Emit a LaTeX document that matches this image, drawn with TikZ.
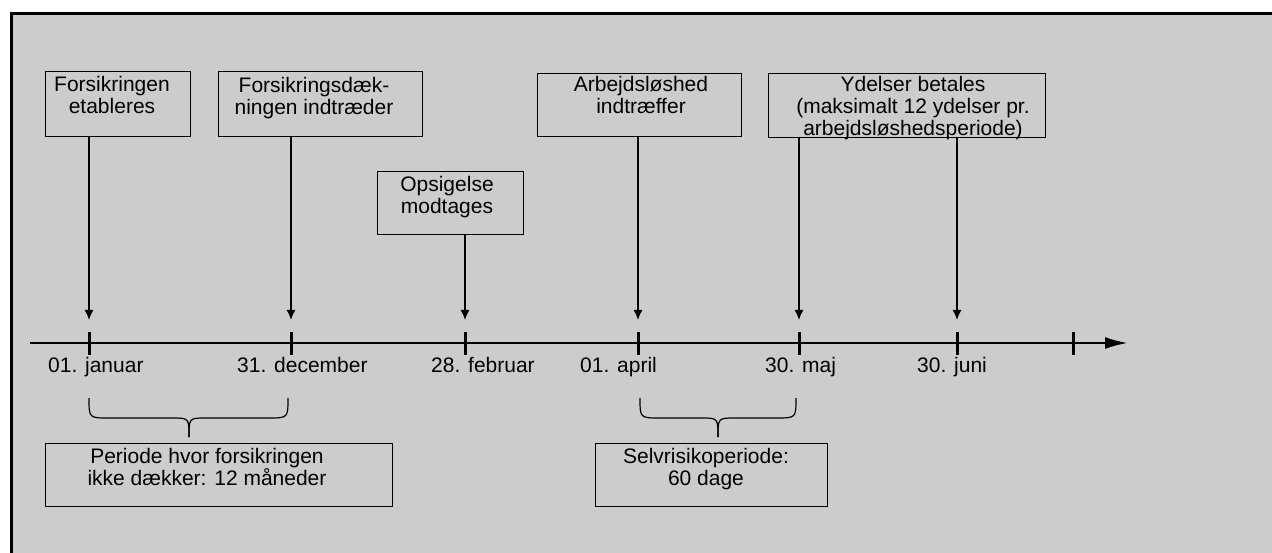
\documentclass[tikz,border=0pt]{standalone}
\usepackage{fontspec}
\setmainfont{Liberation Sans}
\usetikzlibrary{arrows.meta}
\definecolor{bgdots}{gray}{0.80}
\begin{document}
\begin{tikzpicture}[x=1pt,y=-1pt,
  box/.style={draw, line width=1.2pt, inner sep=0pt, anchor=north west},
  txt/.style={inner sep=0pt, anchor=base, font=\fontsize{21}{22}\selectfont},
  datelbl/.style={inner sep=0pt, anchor=base west, font=\fontsize{21}{22}\selectfont},
  pointer/.style={line width=1.5pt, -{Latex[length=10pt,width=9pt]}},
  tickmark/.style={line width=3pt},
  bracepath/.style={line width=1.2pt}]
\useasboundingbox (0,0) rectangle (1272,553);
% background and frame
\fill[bgdots] (12,14) rectangle (1272,553);
\draw[line width=3pt] (11.5,553) -- (11.5,14) -- (1272,14);

% boxes
\node[box, minimum width=145pt, minimum height=65pt] (b1) at (45,71) {};
\node[box, minimum width=204pt, minimum height=65pt] (b2) at (218,71) {};
\node[box, minimum width=146pt, minimum height=63pt] (b3) at (377,171) {};
\node[box, minimum width=204pt, minimum height=63pt] (b4) at (537,73) {};
\node[box, minimum width=277pt, minimum height=64pt] (b5) at (768,73) {};
\node[box, minimum width=347pt, minimum height=63pt] (b6) at (45,443) {};
\node[box, minimum width=232pt, minimum height=63pt] (b7) at (595,443) {};

% box texts
\node[txt] (t1) at (112,92) {\parbox[t]{300pt}{\centering Forsikringen\\etableres}};
\node[txt] (t2) at (314,93) {\parbox[t]{300pt}{\centering Forsikringsdæk-\\ningen indtræder}};
\node[txt] (t3) at (447,192) {\parbox[t]{300pt}{\centering Opsigelse\\modtages}};
\node[txt] (t4) at (641,92) {\parbox[t]{300pt}{\centering Arbejdsløshed\\indtræffer}};
\node[txt] (t5) at (913,92) {\parbox[t]{400pt}{\centering Ydelser betales\\(maksimalt 12 ydelser pr.\\arbejdsløshedsperiode)}};
\node[txt] (t6) at (207,463) {\parbox[t]{400pt}{\centering Periode hvor forsikringen\\ikke dækker: 12 måneder}};
\node[txt] (t7) at (706,463) {\parbox[t]{300pt}{\centering Selvrisikoperiode:\\60 dage}};

% axis
\coordinate (axs) at (30,343);
\coordinate (axe) at (1128,343);
\draw[line width=2.5pt, -{Latex[length=23pt,width=12pt]}] (axs) -- (axe);

% ticks
\foreach \x/\n in {89/k1,291/k2,465/k3,638/k4,799/k5,957/k6,1073/k7}{
  \coordinate (\n) at (\x,343);
  \draw[tickmark] (\x,332) -- (\x,355);
}

% arrow ends
\coordinate (e1) at (89,320);
\coordinate (e2) at (291,320);
\coordinate (e3) at (465,320);
\coordinate (e4) at (638,320);
\coordinate (e5) at (799,320);
\coordinate (e6) at (957,320);

\draw[pointer] (b1.south -| e1) -- (e1);
\draw[pointer] (b2.south -| e2) -- (e2);
\draw[pointer] (b3.south -| e3) -- (e3);
\draw[pointer] (b4.south -| e4) -- (e4);
\draw[pointer] (b5.south -| e5) -- (e5);
\draw[pointer] (b5.south -| e6) -- (e6);

% date labels
\node[datelbl] (d1) at (48,372) {01. januar};
\node[datelbl] (d2) at (237,372) {31. december};
\node[datelbl] (d3) at (431,372) {28. februar};
\node[datelbl] (d4) at (580,372) {01. april};
\node[datelbl] (d5) at (765,372) {30. maj};
\node[datelbl] (d6) at (917,372) {30. juni};

% braces
\draw[bracepath] (89,398) .. controls (89,418) .. (109,418) -- (172,418) .. controls (189,418) .. (189,437);
\draw[bracepath] (288,398) .. controls (288,418) .. (268,418) -- (206,418) .. controls (189,418) .. (189,437);
\draw[bracepath] (640,398) .. controls (640,418) .. (660,418) -- (701,418) .. controls (718,418) .. (718,437);
\draw[bracepath] (796,398) .. controls (796,418) .. (776,418) -- (735,418) .. controls (718,418) .. (718,437);
\end{tikzpicture}
\end{document}
